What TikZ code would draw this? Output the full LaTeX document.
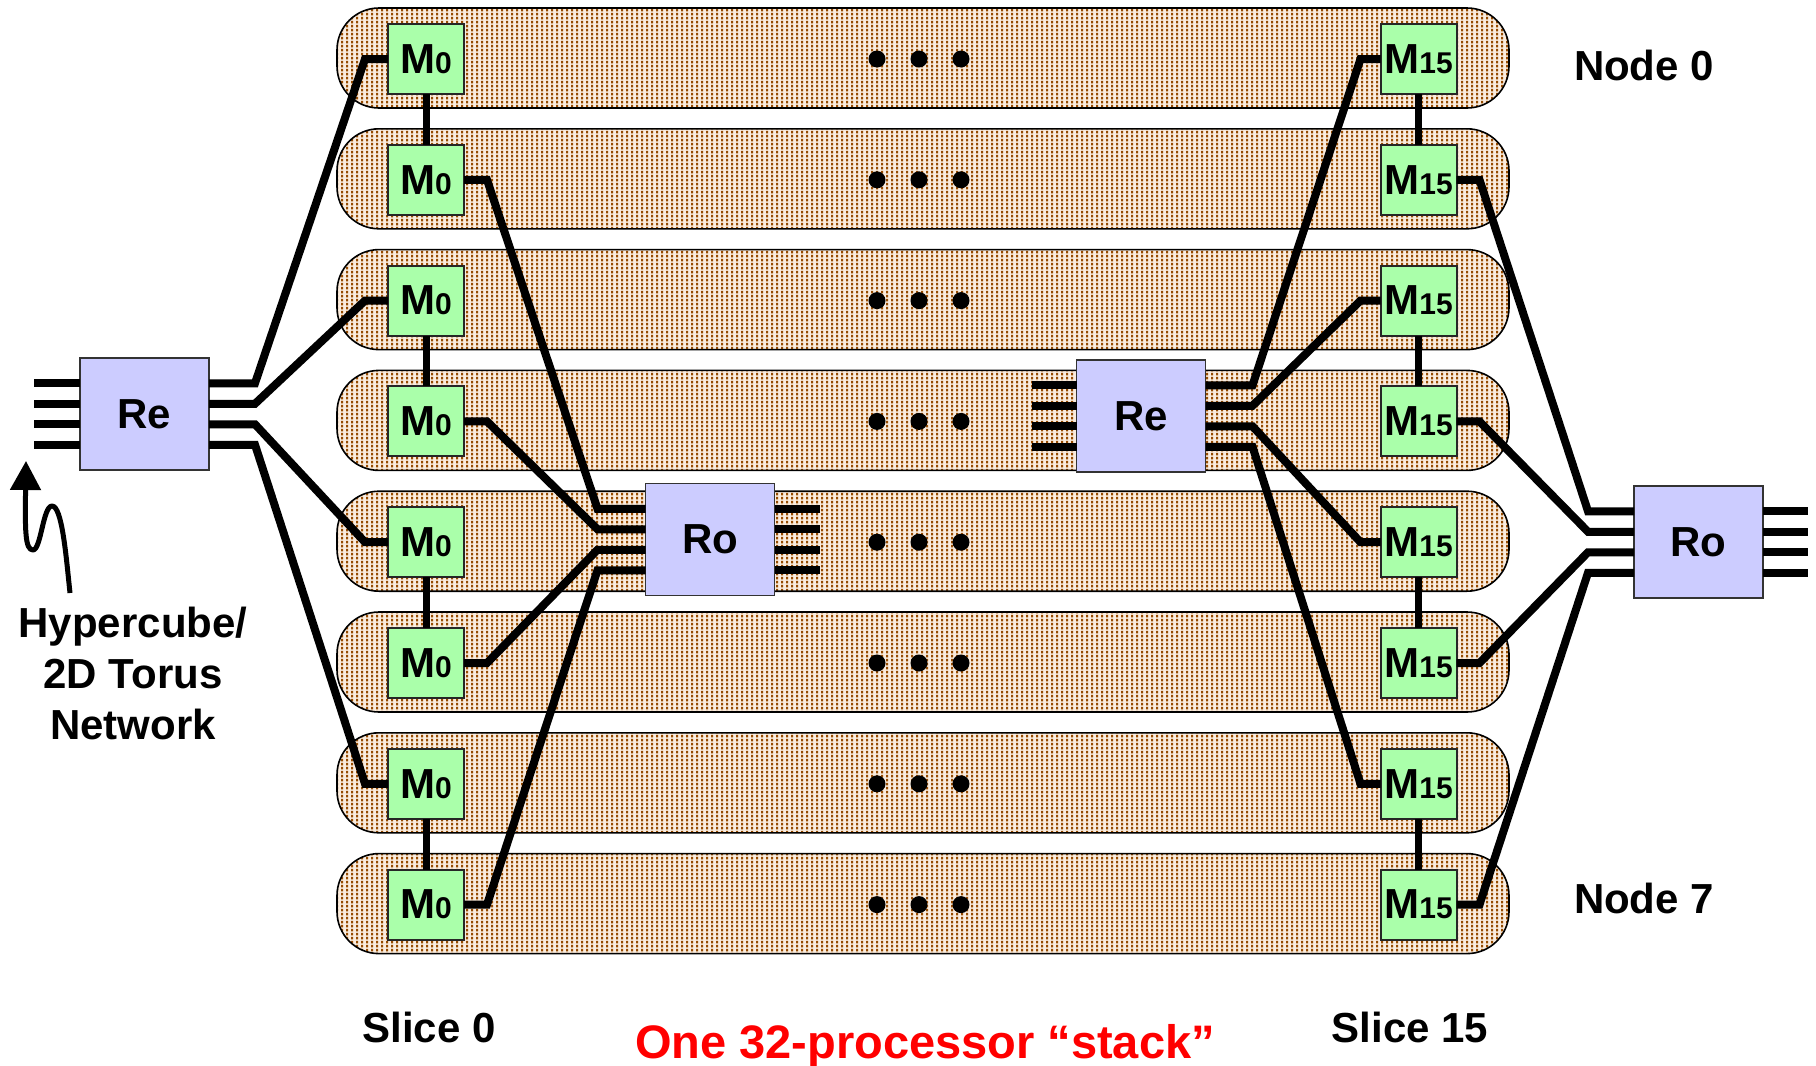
\documentclass[tikz,border=0pt]{standalone}
\usepackage{fontspec}
\setmainfont{Liberation Sans}
\usetikzlibrary{calc,patterns,arrows.meta}

% small brown square dots for the board fill
\pgfdeclarepatternformonly{brdots}{\pgfqpoint{0pt}{0pt}}{\pgfqpoint{2.5pt}{2.2pt}}{\pgfqpoint{2.5pt}{2.2pt}}{%
  \pgfpathrectangle{\pgfqpoint{0.65pt}{0.4pt}}{\pgfqpoint{1.2pt}{1.4pt}}\pgfusepath{fill}}

\definecolor{slabbase}{RGB}{250,236,222}
\definecolor{slabdot}{RGB}{150,75,0}
\definecolor{memgreen}{RGB}{170,255,170}
\definecolor{rtrlav}{RGB}{204,204,255}

\newcommand\memlbl[1]{{\fontsize{21pt}{24pt}\selectfont\bfseries M}{\fontsize{15pt}{18pt}\selectfont\bfseries #1}}

\begin{document}
\begin{tikzpicture}[x=0.5pt,y=-0.5pt,
  slabshape/.style={preaction={fill=slabbase}, pattern=brdots, pattern color=slabdot,
    draw=black, line width=0.8pt, rounded corners=21pt},
  mbox/.style={draw=black!85, line width=1pt, fill=memgreen, minimum width=38pt,
    minimum height=35pt, inner sep=0pt, outer sep=0pt},
  rbox/.style={draw=black!80, line width=0.8pt, fill=rtrlav, minimum width=64.5pt,
    minimum height=56pt, inner sep=0pt, outer sep=0pt,
    font=\fontsize{21pt}{24pt}\selectfont\bfseries},
  wire/.style={line width=4pt, line cap=butt, line join=miter},
  link/.style={line width=3.5pt, line cap=butt},
  lbl/.style={font=\fontsize{21pt}{24pt}\selectfont\bfseries, inner sep=0pt, anchor=base},
]
\useasboundingbox (0,0) rectangle (1816,1066);

% the eight node boards
\foreach \i in {0,...,7}{
  \pgfmathsetmacro\yt{8+120.8*\i}
  \draw[slabshape] (337,\yt) rectangle (1509,\yt+100);
}

% memory/processor slices and the ellipsis on each board
\foreach \i in {0,...,7}{
  \pgfmathsetmacro\yc{59+120.8*\i}
  \node[mbox] (ma\i) at (426,\yc) {\memlbl{0}};
  \node[mbox] (mb\i) at (1418.5,\yc) {\memlbl{15}};
  \foreach \xx in {877,919,961} \fill (\xx,\yc) circle[radius=4.25pt];
}

% links between paired slices
\foreach \i/\j in {0/1,2/3,4/5,6/7}{
  \draw[link] (ma\i.south) -- (ma\j.north);
  \draw[link] (mb\i.south) -- (mb\j.north);
}

% routers
\node[rbox] (reL) at (144.5,414) {Re};
\node[rbox] (roC) at (710,539.5) {Ro};
\node[rbox] (reR) at (1141,416) {Re};
\node[rbox] (roR) at (1698.5,542) {Ro};

% slice 0: Re router to even boards
\foreach \k/\r in {0/0,1/2,2/4,3/6}{
  \pgfmathsetmacro\off{-30.75+20.5*\k}
  \draw[wire] ($(reL.west)+(0,\off)$) -- ++(-46,0);
  \draw[wire] ($(reL.east)+(0,\off)$) -- ++(46,0) -- ($(ma\r.west)+(-23,0)$) -- (ma\r.west);
}
% slice 0: odd boards to Ro router
\foreach \k/\r in {0/1,1/3,2/5,3/7}{
  \pgfmathsetmacro\off{-30.75+20.5*\k}
  \draw[wire] (ma\r.east) -- ++(23,0) -- ($(roC.west)+(-48,\off)$) -- ($(roC.west)+(0,\off)$);
  \draw[wire] ($(roC.east)+(0,\off)$) -- ++(45,0);
}
% slice 15: Re router to even boards
\foreach \k/\r in {0/0,1/2,2/4,3/6}{
  \pgfmathsetmacro\off{-30.75+20.5*\k}
  \draw[wire] ($(reR.west)+(0,\off)$) -- ++(-45,0);
  \draw[wire] ($(reR.east)+(0,\off)$) -- ++(47,0) -- ($(mb\r.west)+(-20,0)$) -- (mb\r.west);
}
% slice 15: odd boards to Ro router
\foreach \k/\r in {0/1,1/3,2/5,3/7}{
  \pgfmathsetmacro\off{-30.75+20.5*\k}
  \draw[wire] (mb\r.east) -- ++(23,0) -- ($(roR.west)+(-46,\off)$) -- ($(roR.west)+(0,\off)$);
  \draw[wire] ($(roR.east)+(0,\off)$) -- ++(45,0);
}

% labels
\node[lbl] (n0) at (1644,80) {Node 0};
\node[lbl] (n7) at (1644,913) {Node 7};
\node[lbl] (s0) at (429,1042) {Slice 0};
\node[lbl] (s15) at (1410,1042) {Slice 15};
\node[lbl, text=red, font=\fontsize{23.5pt}{26pt}\selectfont\bfseries] (stk) at (925,1058) {One 32-processor “stack”};
\node[lbl] (net1) at (133,637) {Hypercube/};
\node[lbl] (net2) at (133,688) {2D Torus};
\node[lbl] (net3) at (133,739) {Network};

% external network feed
\draw[line width=2.5pt, line join=round, -{Triangle[width=15pt,length=14.5pt]}]
  (70,593) .. controls (66,555) and (62,506) .. (52,506)
  .. controls (43,506) and (41,550) .. (33,550)
  .. controls (25,550) and (25,530) .. (26,461);
\end{tikzpicture}
\end{document}
